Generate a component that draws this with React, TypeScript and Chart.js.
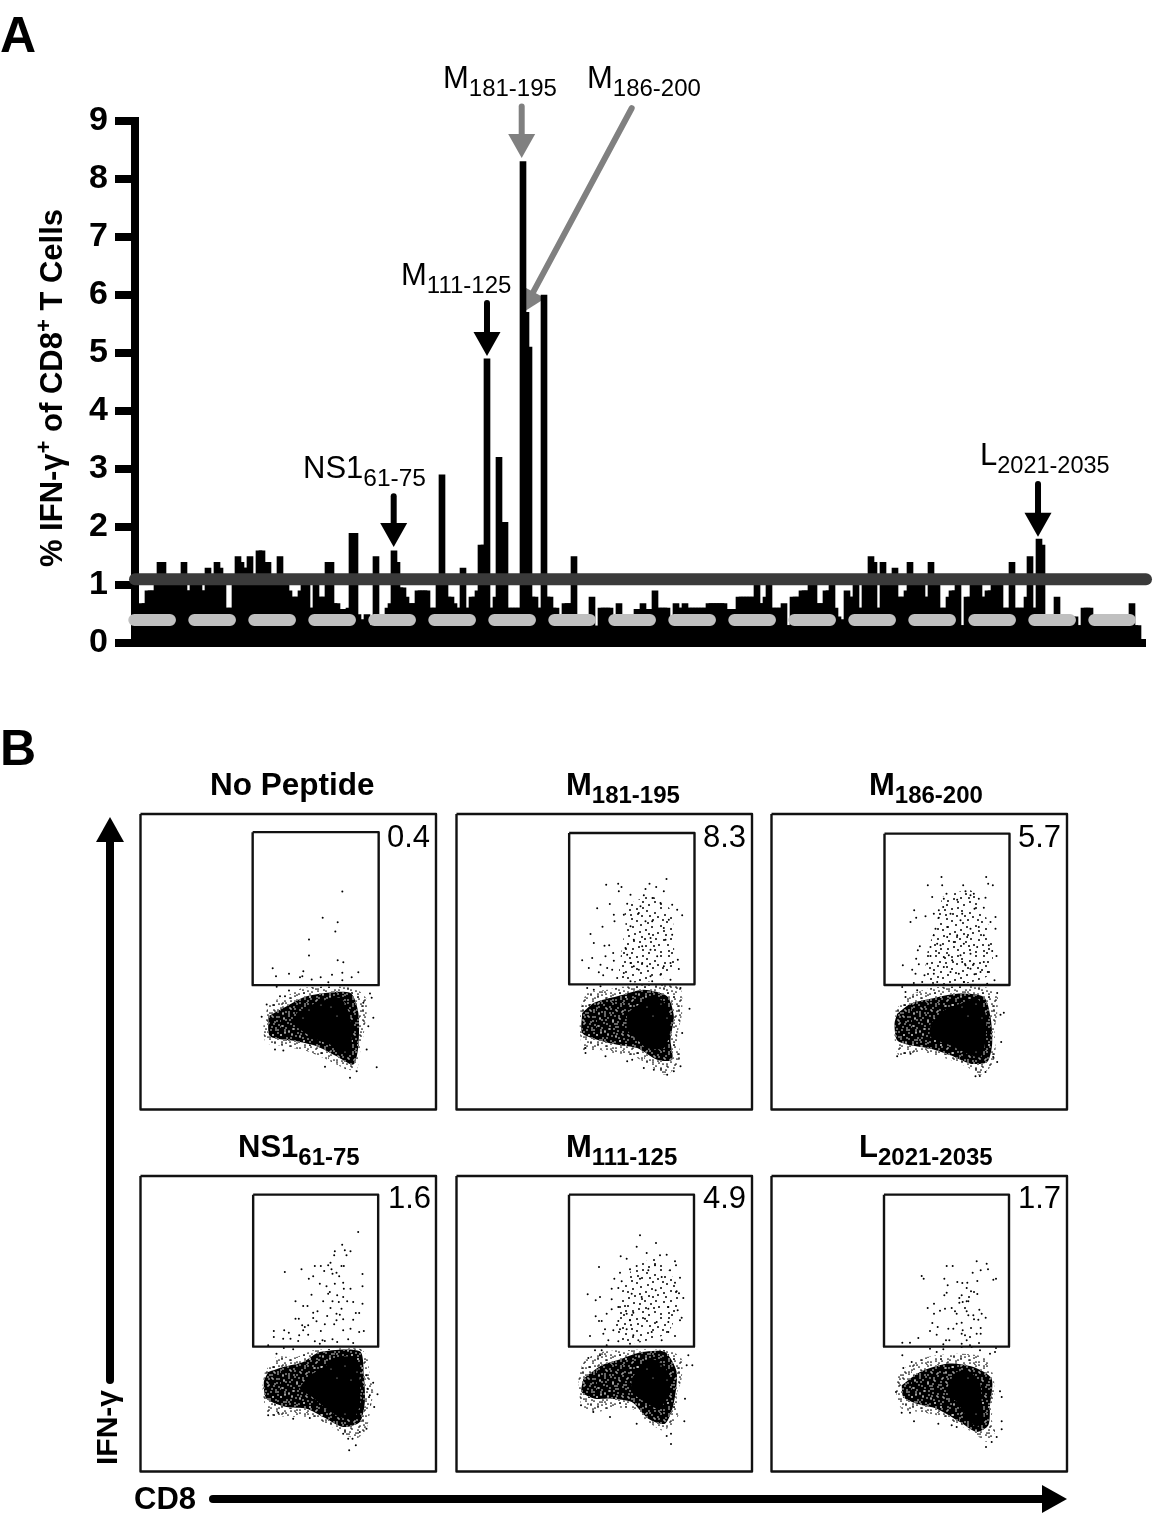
import React, { useEffect, useRef } from "react";
import { Chart, registerables } from "chart.js";
Chart.register(...registerables);

// ---------- Panel A data ----------
const peptideResponse = [
  .68,.68,.9,.9,.9,1,1.39,1.39,1,1,
  1,1,1,1,1.39,.9,.9,1,1,1,
  .9,.9,1.29,1,1,1.39,1.29,1,.6,.6,
  .6,1,1.49,1.39,1.29,1.29,1.49,1.05,1.05,1.59,
  1.59,1.39,1.39,1.05,1.05,1.05,1.49,1,1,.9,
  .79,.79,.79,.9,1,1,.6,.6,1,.79,
  .79,.79,1.39,1.39,.68,.68,.58,.58,.58,.6,
  1.89,1.89,.49,.4,.4,.49,.3,.3,1.49,.4,
  .4,.4,.6,.68,1.59,1.39,.95,.95,.79,.68,
  .68,.68,.9,.9,.9,.9,.6,.6,.6,1,
  2.9,1.05,.79,.79,.68,.6,.6,1.29,.6,.6,
  .79,.79,.9,1.69,1.69,4.9,.6,.6,.79,3.2,
  2.08,2.08,.6,.6,.6,.6,.6,8.3,5.7,5.1,
  .79,.79,.6,.6,6,.79,.79,.6,.6,.45,
  .45,.68,.68,.68,1.49,.45,.45,.45,.45,.45,
  .79,.29,.29,.6,.6,.6,.6,.4,.4,.68,
  .45,.45,.45,.45,.45,.58,.58,.68,.58,.58,
  .58,.9,.6,.6,.6,.6,.45,.45,.68,.6,
  .6,.68,.6,.6,.6,.6,.6,.6,.6,.68,
  .68,.68,.68,.68,.68,.58,.58,.58,.58,.79,
  .79,.79,.79,.79,.79,1.1,.68,.68,.79,1.05,
  .6,.6,.6,.6,.68,.3,.3,.79,.79,.79,
  .9,.9,.9,1,1,.68,.68,.68,.9,.9,
  1,.6,.45,.4,.4,.9,.79,.79,1,.6,
  .6,1,1,1.49,1.39,.6,.6,1.39,1.05,1.05,
  1.05,1.29,.79,.79,.79,.9,1.39,1,1,1,
  1,.79,.79,1.39,1,1,.6,.6,.6,.79,
  .9,.9,1,.3,.3,.79,.79,1.05,1.05,1.05,
  .79,.79,.9,.9,1,1,1,.6,.6,.6,
  1.39,.6,.6,.6,.6,.79,1.49,.6,.6,1.79,
  1.69,.45,.45,.45,.45,.79,.45,.45,.45,.45,
  .45,.45,.3,.3,.6,.6,.6,.45,.45,.45,
  .45,.45,.45,.45,.45,.45,.45,.45,.45,.45,
  .68,.3,.3,
];
const yTicks = [0, 1, 2, 3, 4, 5, 6, 7, 8, 9];
const thresholdLine = [{ x: -2.33, y: 1.1 }, { x: 334.67, y: 1.1 }];
const poolBar = [{ x: -2.57, y: 0.395 }, { x: 329.43, y: 0.395 }];
const calloutArrows = [
  { tail: [126.57, 9.25], tip: [126.57, 8.36], tone: "gray" },
  { tail: [163.23, 9.22], tip: [126.67, 5.69], tone: "gray" },
  { tail: [115, 5.86], tip: [115, 4.95], tone: "black" },
  { tail: [83.9, 2.53], tip: [83.9, 1.655], tone: "black" },
  { tail: [298.67, 2.74], tip: [298.67, 1.83], tone: "black" },
];

// ---------- Panel B data (dot plots: outlined density regions + individually read events) ----------
type P = [number, number];
const npWindow: P = [151.5, 163.5];
const npGate: P[] = [[488,218],[866,218],[866,677],[488,677]];
const npOuter: P[] = [[525,770],[540,730],[590,710],[640,685],[790,685],[830,720],[825,800],[810,880],[800,930],[770,930],[700,895],[650,875],[580,860],[528,850],[520,800]];
const npMid: P[] = [[535,770],[590,740],[650,710],[780,700],[805,760],[805,860],[790,915],[740,890],[680,860],[620,845],[540,830]];
const npCore: P[] = [[620,760],[680,730],[750,715],[780,770],[785,860],[770,890],[730,860],[680,840],[620,800]];
const npDots: P[] = [[757,396],[698,475],[743,488],[736,516],[657,540],[657,588],[743,602],[760,608],[548,626],[640,635],[805,638],[597,643],[558,650],[637,650],[630,653],[726,646],[757,640],[785,653],[692,653],[665,660],[757,662],[715,668],[560,682],[597,693],[840,702],[845,715],[570,710],[585,710],[850,775],[835,800],[830,870],[860,923],[780,955],[800,935],[705,922],[580,873],[555,870],[820,730],[515,772],[530,735]];

const m181Window: P = [18, 43];
const m181Gate: P[] = [[356,100],[732,100],[732,554],[356,554]];
const m181Outer: P[] = [[390,625],[410,580],[470,570],[530,560],[650,555],[690,565],[695,640],[680,710],[690,770],[670,810],[640,825],[600,800],[550,770],[490,760],[440,750],[400,755],[388,690]];
const m181Mid: P[] = [[395,640],[430,610],[500,590],[580,570],[650,590],[670,650],[660,720],[665,780],[620,780],[560,745],[500,735],[440,720],[395,700]];
const m181Core: P[] = [[530,640],[570,610],[610,590],[650,620],[660,690],[640,745],[590,745],[560,720],[530,690]];
const m181Cluster: P[] = [[520,320],[600,290],[660,330],[670,420],[665,520],[600,545],[510,540],[515,440],[525,380]];
const m181Dots: P[] = [[648,238],[597,252],[503,252],[467,255],[617,262],[585,268],[513,262],[640,275],[505,275],[606,295],[580,287],[540,285],[530,312],[478,313],[440,326],[630,310],[665,315],[680,330],[695,347],[490,345],[520,345],[565,340],[605,365],[655,360],[492,365],[456,381],[540,380],[640,385],[420,403],[430,430],[462,438],[476,437],[525,445],[600,450],[665,405],[645,420],[488,460],[465,470],[425,475],[395,482],[490,483],[682,480],[660,490],[450,495],[415,505],[470,505],[540,490],[575,490],[685,508],[445,518],[458,527],[485,510],[520,520],[565,510],[630,525],[600,530],[660,540],[500,535],[540,545],[605,545],[410,565],[430,570],[450,560],[690,565],[717,627],[695,700],[405,745],[405,760],[465,770],[530,785],[545,780],[580,805],[610,810],[650,825],[690,800],[670,815],[570,320],[585,365],[550,420],[600,415],[575,440],[620,470],[640,500],[530,465],[550,500],[590,500]];

const m186Window: P = [3, 11];
const m186Gate: P[] = [[342,70],[717,70],[717,524],[342,524]];
const m186Outer: P[] = [[375,600],[400,570],[440,545],[500,530],[640,530],[680,550],[680,610],[672,660],[675,730],[660,770],[625,795],[590,770],[530,745],[480,730],[440,725],[385,735],[372,680]];
const m186Mid: P[] = [[380,610],[420,580],[480,565],[560,550],[640,560],[660,620],[665,700],[650,755],[600,760],[540,735],[480,715],[420,705],[380,690],[372,640]];
const m186Core: P[] = [[480,640],[520,600],[570,580],[620,565],[645,610],[645,690],[630,740],[590,730],[540,705],[480,680]];
const m186Cluster: P[] = [[515,260],[600,240],[640,300],[665,400],[660,490],[580,520],[470,515],[470,430],[495,350]];
const m186Dots: P[] = [[513,200],[647,200],[653,220],[667,225],[472,225],[515,225],[578,225],[585,243],[610,250],[528,250],[485,260],[520,265],[560,268],[600,255],[625,265],[645,262],[431,300],[465,318],[437,322],[420,335],[490,310],[505,322],[518,290],[540,310],[575,310],[640,292],[612,295],[675,320],[660,335],[675,355],[495,355],[530,350],[570,330],[600,355],[625,350],[490,375],[550,395],[580,400],[640,375],[448,408],[442,420],[480,410],[510,405],[520,440],[535,435],[570,435],[600,430],[655,405],[665,422],[678,437],[480,437],[437,445],[470,460],[397,465],[445,462],[425,478],[435,490],[462,495],[490,490],[520,470],[585,465],[610,460],[640,455],[652,485],[540,485],[565,490],[612,492],[630,485],[672,510],[430,518],[455,515],[500,515],[580,515],[650,520],[395,530],[405,545],[405,560],[440,540],[680,548],[700,607],[690,613],[692,695],[380,738],[420,730],[615,798],[628,797],[645,785],[680,755],[668,740],[505,300],[560,375],[590,380],[620,410],[545,450],[575,455],[600,475],[530,380],[500,400]];

const ns1Window: P = [2, 2];
const ns1Gate: P[] = [[340,58],[715,58],[715,514],[340,514]];
const ns1Outer: P[] = [[375,590],[410,545],[470,545],[520,525],[660,520],[682,545],[690,600],[700,650],[690,710],[680,760],[650,790],[610,775],[560,745],[510,725],[450,725],[385,715],[368,640]];
const ns1Mid: P[] = [[385,590],[430,575],[490,560],[540,530],[660,528],[672,600],[675,680],[660,740],[610,755],[550,725],[500,700],[440,695],[380,670],[372,620]];
const ns1Core: P[] = [[510,600],[560,570],[600,545],[650,550],[660,620],[660,690],[640,730],[600,725],[560,700],[510,660],[480,640]];
const ns1Dots: P[] = [[655,170],[607,208],[615,225],[632,228],[585,228],[620,240],[583,240],[572,262],[565,270],[525,272],[543,272],[605,272],[612,272],[575,282],[485,282],[553,287],[435,290],[590,292],[668,296],[578,295],[598,303],[520,303],[507,310],[610,322],[540,325],[560,333],[668,333],[585,325],[632,340],[612,340],[570,350],[565,355],[515,358],[592,360],[610,365],[467,378],[550,378],[578,378],[597,380],[622,378],[640,380],[668,385],[490,392],[503,392],[572,398],[605,400],[533,408],[520,412],[590,415],[600,418],[648,413],[658,413],[520,428],[467,430],[477,430],[562,422],[610,432],[590,435],[640,433],[530,438],[555,447],[583,447],[487,450],[495,455],[505,450],[490,465],[543,467],[610,465],[632,460],[402,467],[433,465],[447,472],[658,470],[672,467],[402,485],[430,490],[452,490],[478,480],[505,478],[475,497],[525,498],[548,495],[578,492],[625,492],[640,503],[592,500],[385,510],[540,505],[555,497],[432,518],[460,522],[410,535],[628,825],[648,810],[625,790],[638,790],[610,775],[660,770],[680,760],[703,695],[713,657],[700,622],[680,600],[690,660],[683,640],[385,720],[415,712],[460,730],[510,728]];

const m111Window: P = [4.5, 2];
const m111Gate: P[] = [[342,58],[717,58],[717,514],[342,514]];
const m111Outer: P[] = [[370,600],[390,555],[440,530],[500,525],[640,525],[680,550],[680,610],[665,660],[670,720],[650,750],[620,765],[580,740],[530,700],[470,700],[420,710],[380,690],[372,640]];
const m111Mid: P[] = [[385,610],[440,570],[500,550],[560,530],[630,530],[665,590],[655,690],[630,745],[580,730],[530,680],[470,670],[420,670],[380,650]];
const m111Core: P[] = [[530,610],[560,570],[590,550],[625,570],[645,610],[635,670],[610,700],[570,680],[530,650]];
const m111Cluster: P[] = [[530,280],[600,250],[650,300],[670,380],[640,470],[560,500],[500,500],[480,420],[500,350]];
const m111Dots: P[] = [[555,180],[545,214],[603,203],[575,233],[497,243],[515,250],[615,240],[635,238],[660,258],[663,270],[432,275],[545,272],[600,270],[580,285],[495,292],[525,282],[645,285],[478,310],[500,318],[555,310],[620,305],[660,322],[675,307],[470,340],[490,338],[398,357],[435,365],[422,375],[470,372],[530,355],[560,365],[602,345],[665,348],[672,354],[685,368],[490,395],[510,392],[515,415],[470,402],[455,415],[535,412],[580,400],[640,395],[668,405],[422,423],[432,437],[440,437],[490,437],[680,427],[675,435],[525,435],[570,430],[605,440],[640,440],[475,465],[450,462],[495,462],[515,462],[405,482],[445,475],[535,480],[590,470],[640,470],[660,482],[460,495],[490,498],[620,495],[455,510],[525,505],[550,495],[440,525],[420,525],[400,548],[435,540],[700,540],[712,570],[695,570],[378,690],[415,710],[465,725],[545,745],[688,738],[690,670],[635,782],[648,775],[648,806]];

const lWindow: P = [4.5, 2];
const lGate: P[] = [[342,58],[717,58],[717,514],[342,514]];
const lOuter: P[] = [[385,600],[420,565],[470,545],[560,535],[640,545],[670,600],[672,680],[665,730],[675,770],[650,800],[615,775],[560,745],[500,720],[450,710],[395,700],[378,650]];
const lMid: P[] = [[395,630],[450,590],[530,565],[610,575],[665,610],[660,690],[655,750],[620,770],[570,740],[500,700],[440,685],[400,665]];
const lCore: P[] = [[535,625],[560,590],[600,590],[630,625],[635,680],[640,730],[620,755],[590,725],[560,680],[535,660]];
const lDots: P[] = [[620,258],[650,265],[530,272],[548,272],[632,285],[654,282],[608,292],[455,302],[461,310],[523,310],[678,310],[670,313],[622,317],[562,320],[592,322],[577,323],[533,330],[590,338],[603,348],[612,350],[622,356],[530,352],[523,360],[575,360],[568,368],[597,365],[590,378],[578,380],[568,382],[595,378],[492,385],[473,398],[525,400],[510,406],[545,398],[555,408],[585,398],[590,408],[628,403],[635,415],[492,415],[560,415],[595,420],[610,420],[612,432],[625,433],[647,427],[575,442],[487,443],[503,455],[535,460],[550,460],[560,445],[578,465],[603,458],[632,458],[480,467],[620,475],[632,475],[575,475],[500,478],[585,480],[600,485],[445,488],[528,495],[538,495],[590,495],[397,502],[420,502],[520,507],[575,505],[627,503],[600,510],[480,520],[500,530],[520,522],[575,515],[605,515],[630,525],[660,535],[675,530],[678,518],[397,540],[425,560],[400,578],[432,738],[395,712],[420,712],[378,650],[695,665],[690,648],[695,738],[695,762],[648,815],[665,800],[680,785],[505,745],[545,750],[560,755]];

const panels = [
  { window: npWindow, gate: npGate, outer: npOuter, mid: npMid, core: npCore, cluster: null, dots: npDots, left: 136, top: 810 },
  { window: m181Window, gate: m181Gate, outer: m181Outer, mid: m181Mid, core: m181Core, cluster: m181Cluster, dots: m181Dots, left: 452, top: 810 },
  { window: m186Window, gate: m186Gate, outer: m186Outer, mid: m186Mid, core: m186Core, cluster: m186Cluster, dots: m186Dots, left: 767, top: 810 },
  { window: ns1Window, gate: ns1Gate, outer: ns1Outer, mid: ns1Mid, core: ns1Core, cluster: null, dots: ns1Dots, left: 136, top: 1172 },
  { window: m111Window, gate: m111Gate, outer: m111Outer, mid: m111Mid, core: m111Core, cluster: m111Cluster, dots: m111Dots, left: 452, top: 1172 },
  { window: lWindow, gate: lGate, outer: lOuter, mid: lMid, core: lCore, cluster: null, dots: lDots, left: 767, top: 1172 },
];

// Stipple tile: texture only, gives the dense regions their grain
const stipple: P[] = [[3,5],[17,2],[29,8],[41,3],[9,14],[23,16],[36,13],[45,19],[2,24],[14,27],[27,23],[39,28],[7,36],[20,34],[32,38],[44,36],[11,44],[25,45],[37,43],[5,47],
  [11,7],[21,9],[34,4],[46,10],[4,17],[17,20],[30,18],[41,15],[9,29],[20,25],[33,30],[44,26],[2,40],[15,39],[27,33],[38,35],[8,21],[25,2],[37,21],[47,44],
  [14,11],[27,12],[42,8],[6,10],[19,14],[32,24],[12,33],[24,39],[36,47],[46,31],[1,33],[17,46],[30,43],[43,41],[10,40],[22,29],[35,9],[47,2],[5,28],[28,47]];

// count of base dots, plus how many mirrored copies of the base list to lay over them
function tile(bg: string | null, ink: string, count: number, r: number, copies = 0) {
  const c = document.createElement("canvas");
  c.width = 48; c.height = 48;
  const g = c.getContext("2d")!;
  if (bg) { g.fillStyle = bg; g.fillRect(0, 0, 48, 48); }
  g.fillStyle = ink;
  const dot = (x: number, y: number) => { g.beginPath(); g.arc(x, y, r, 0, Math.PI * 2); g.fill(); };
  stipple.slice(0, count).forEach(([x, y]) => {
    dot(x, y);
    if (copies > 0) dot((y + 7) % 48, (x + 13) % 48);
    if (copies > 1) dot(47 - x, (y + 23) % 48);
    if (copies > 2) dot((47 - y + 31) % 48, (47 - x) % 48);
  });
  return g.createPattern(c, "repeat")!;
}

const SANS = '"Liberation Sans", Arial, sans-serif';

const arrowPlugin = {
  id: "calloutArrows",
  beforeDatasetsDraw(chart: any) {
    const { ctx, scales: { x, y } } = chart;
    calloutArrows.forEach((a) => {
      const tx = x.getPixelForValue(a.tail[0]), ty = y.getPixelForValue(a.tail[1]);
      const px = x.getPixelForValue(a.tip[0]), py = y.getPixelForValue(a.tip[1]);
      const len = Math.hypot(px - tx, py - ty);
      const ux = (px - tx) / len, uy = (py - ty) / len;
      const bx = px - ux * 24, by = py - uy * 24;
      const col = a.tone === "gray" ? "#808080" : "#000";
      ctx.save();
      ctx.strokeStyle = col; ctx.fillStyle = col; ctx.lineWidth = 6; ctx.lineCap = "round";
      ctx.beginPath(); ctx.moveTo(tx, ty); ctx.lineTo(bx, by); ctx.stroke();
      ctx.beginPath(); ctx.moveTo(px, py);
      ctx.lineTo(bx - uy * 13.5, by + ux * 13.5);
      ctx.lineTo(bx + uy * 13.5, by - ux * 13.5);
      ctx.closePath(); ctx.fill();
      ctx.restore();
    });
  },
};

function BarChart() {
  const ref = useRef<HTMLCanvasElement>(null);
  useEffect(() => {
    const chart = new Chart(ref.current!, {
      type: "bar",
      plugins: [arrowPlugin],
      data: {
        datasets: [
          { type: "line", data: poolBar, borderColor: "#c0c0c0", borderWidth: 12, borderCapStyle: "round", borderDash: [35.7, 24.3], pointRadius: 0, clip: false, order: 1 },
          { type: "line", data: thresholdLine, borderColor: "#3a3a3a", borderWidth: 12, borderCapStyle: "round", pointRadius: 0, clip: false, order: 0 },
          { type: "bar", data: peptideResponse.map((y, x) => ({ x, y })), backgroundColor: "#000", barThickness: 6, order: 2 },
        ] as any,
      },
      options: {
        animation: false, responsive: false, events: [],
        layout: { padding: { left: 0, right: 7.5, top: 121, bottom: 47 } },
        plugins: { legend: { display: false }, tooltip: { enabled: false } },
        scales: {
          x: { type: "linear", min: -2.33, max: 334.5, offset: false, afterFit: (s: any) => { s.height = 0; },
            grid: { display: false, offset: false }, ticks: { display: false },
            border: { display: true, color: "#000", width: 8 } },
          y: { min: 0, max: 9, afterFit: (s: any) => { s.width = 135; },
            afterBuildTicks: (s: any) => { s.ticks = yTicks.map((value) => ({ value })); },
            grid: { display: true, drawOnChartArea: false, drawTicks: true, tickLength: 20, tickWidth: 8, lineWidth: 8, tickColor: "#000" },
            border: { display: true, color: "#000", width: 8 },
            ticks: { color: "#000", padding: 7, font: { family: SANS, size: 34, weight: "bold" } } },
        },
      } as any,
    });
    return () => chart.destroy();
  }, []);
  return <canvas ref={ref} width={1153} height={690} style={{ position: "absolute", left: 0, top: 0 }} />;
}

function FlowPanel({ p }: { p: (typeof panels)[number] }) {
  const ref = useRef<HTMLCanvasElement>(null);
  useEffect(() => {
    const pts = (a: P[]) => a.map(([x, y]) => ({ x, y }));
    const closed = (a: P[]) => pts([...a, a[0]]);
    const [wx, wy] = p.window;
    const span = 886.5;
    const region = (a: P[], fill: any) => ({ type: "line", data: closed(a), fill: "shape", backgroundColor: fill, borderColor: "transparent", borderWidth: 0, pointRadius: 0, tension: 0.25 });
    const outline = (a: P[]) => ({ type: "line", data: closed(a), borderColor: "#111", borderWidth: 2.4, borderJoinStyle: "round", pointRadius: 0, fill: false, clip: false, tension: 0 });
    const frame: P[] = [[wx, wy], [wx + span, wy], [wx + span, wy + span], [wx, wy + span]];
    const datasets: any[] = [outline(frame), outline(p.gate),
      { type: "scatter", data: pts(p.dots), pointRadius: 1, pointBorderWidth: 0, pointBackgroundColor: "#000", showLine: false },
    ];
    datasets.push(region(p.core, tile("#000", "#fff", 6, 0.5)));
    datasets.push(region(p.mid, tile("#000", "#fff", 60, 0.75, 2)));
    datasets.push(region(p.outer, tile(null, "#000", 60, 0.85, 2)));
    if (p.cluster) datasets.push(region(p.cluster, tile(null, "#000", 60, 1)));
    const chart = new Chart(ref.current!, {
      type: "scatter",
      data: { datasets },
      options: {
        animation: false, responsive: false, events: [],
        layout: { padding: { left: 4.5, right: 4, top: 4, bottom: 4.5 } },
        plugins: { legend: { display: false }, tooltip: { enabled: false } },
        scales: {
          x: { type: "linear", display: false, min: wx, max: wx + span },
          y: { type: "linear", display: false, reverse: true, min: wy, max: wy + span },
        },
      } as any,
    });
    return () => chart.destroy();
  }, []);
  return <canvas ref={ref} width={304} height={304} style={{ position: "absolute", left: p.left, top: p.top }} />;
}

const T = ({ x, y, size, bold, children, sub, subSize, anchor }: any) => (
  <text x={x} y={y} fontFamily={SANS} fontSize={size} fontWeight={bold ? "bold" : "normal"} fill="#000" textAnchor={anchor}>
    {children}
    {sub ? <tspan dy={8} fontSize={subSize}>{sub}</tspan> : null}
  </text>
);

function Overlay() {
  return (
    <svg width={1153} height={1514} style={{ position: "absolute", left: 0, top: 0, pointerEvents: "none" }}>
      <T x={0} y={52} size={50} bold>A</T>
      <T x={0} y={765} size={50} bold>B</T>
      <text transform="rotate(-90 62 388)" x={62} y={388} textAnchor="middle" fontFamily={SANS} fontSize={31} fontWeight="bold">
        % IFN-γ<tspan dy={-11} fontSize={22}>+</tspan><tspan dy={11}> of CD8</tspan><tspan dy={-11} fontSize={22}>+</tspan><tspan dy={11}> T Cells</tspan>
      </text>
      <T x={443} y={88} size={31} sub="181-195" subSize={24}>M</T>
      <T x={587} y={88} size={31} sub="186-200" subSize={24}>M</T>
      <T x={401} y={285} size={31} sub="111-125" subSize={24}>M</T>
      <T x={303} y={478} size={31} sub="61-75" subSize={24.5}>NS1</T>
      <T x={980} y={465} size={31} sub="2021-2035" subSize={23.5}>L</T>

      <T x={210} y={795} size={31.5} bold>No Peptide</T>
      <T x={566} y={795} size={31} bold sub="181-195" subSize={24}>M</T>
      <T x={869} y={795} size={31} bold sub="186-200" subSize={24}>M</T>
      <T x={238} y={1157} size={31} bold sub="61-75" subSize={24}>NS1</T>
      <T x={566} y={1157} size={31} bold sub="111-125" subSize={24}>M</T>
      <T x={859} y={1157} size={31} bold sub="2021-2035" subSize={24}>L</T>

      <T x={387} y={847} size={31}>0.4</T>
      <T x={703} y={847} size={31}>8.3</T>
      <T x={1018} y={847} size={31}>5.7</T>
      <T x={388} y={1208} size={31}>1.6</T>
      <T x={703} y={1208} size={31}>4.9</T>
      <T x={1018} y={1208} size={31}>1.7</T>

      <line x1={110} y1={1380} x2={110} y2={838} stroke="#000" strokeWidth={8} strokeLinecap="round" />
      <polygon points="110,817 96,842 124,842" fill="#000" />
      <text transform="rotate(-90 117 1465)" x={117} y={1465} fontFamily={SANS} fontSize={30} fontWeight="bold">IFN-γ</text>
      <T x={134} y={1509} size={31} bold>CD8</T>
      <line x1={213} y1={1499} x2={1045} y2={1499} stroke="#000" strokeWidth={8} strokeLinecap="round" />
      <polygon points="1067,1499 1042,1485 1042,1513" fill="#000" />
    </svg>
  );
}

export default function App() {
  return (
    <div style={{ position: "absolute", left: 0, top: 0, width: 1153, height: 1514, background: "#fff", overflow: "hidden" }}>
      <BarChart />
      {panels.map((p, i) => <FlowPanel key={i} p={p} />)}
      <Overlay />
    </div>
  );
}
